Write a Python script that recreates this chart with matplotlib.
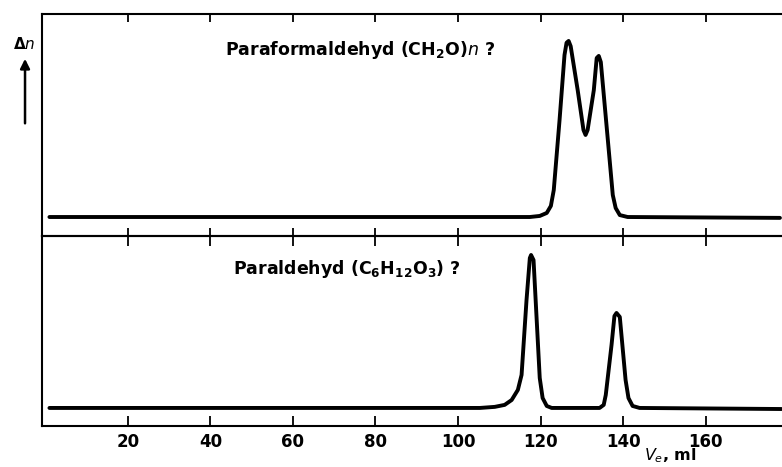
import matplotlib.pyplot as plt

plt.rcParams['mathtext.default'] = 'regular'

# elution volume (ml) and refractive index signal (relative units)
upper_ml = [1, 60, 117.4, 119.8, 121.5, 122.5, 123.2, 124.6, 125.8, 126.3, 126.8, 127.3, 129.0,
            130.4, 130.9, 131.4, 132.9, 133.6, 134.1, 134.6, 136.3, 137.5, 138.2, 139.2, 141.1, 178]
upper_dn = [0, 0, 0, 0.6, 2.3, 6.3, 15.3, 55, 92, 99, 100, 97, 72,
            49.4, 46.6, 49.4, 72, 90.3, 91.5, 88, 43.8, 12.5, 5.1, 1.1, 0, -0.5]

lower_ml = [1, 60, 105.3, 108.9, 111.3, 113.0, 114.5, 115.4, 116.6, 117.4, 117.7, 118.3, 119.8,
            120.5, 121.5, 122.7, 134.3, 135.3, 135.8, 137.2, 137.9, 138.4, 139.2, 140.6, 141.3,
            142.3, 144.0, 178.4]
lower_dn = [0, 0, 0, 0.7, 2.0, 5.2, 11.8, 21.6, 70.6, 98, 100, 96.7, 19.6,
            6.5, 1.3, 0, 0, 2, 8.5, 41.2, 60.1, 62.1, 59.5, 18.3, 6.5,
            1.3, 0, -0.7]

xticks = [20, 40, 60, 80, 100, 120, 140, 160]
upper_label = "Paraformaldehyd (CH$_2$O)$\\mathit{n}$ ?"
lower_label = "Paraldehyd (C$_6$H$_{12}$O$_3$) ?"

fig = plt.figure(figsize=(7.82, 4.67), dpi=100)
ax1 = fig.add_axes([0.0537, 0.4946, 0.9463, 0.4754])
ax2 = fig.add_axes([0.0537, 0.0878, 0.9463, 0.4068])
ax2.patch.set_visible(False)

for ax in (ax1, ax2):
    ax.set_xlim(-0.8, 178.5)
    ax.set_xticks(xticks)
    ax.set_yticks([])
    ax.spines['right'].set_visible(False)
    for s in ('left', 'top', 'bottom'):
        ax.spines[s].set_linewidth(1.5)

ax1.plot(upper_ml, upper_dn, color='black', lw=2.8, solid_capstyle='round', solid_joinstyle='round')
ax1.set_ylim(-10.8, 115.3)
ax1.tick_params(axis='x', which='both', direction='in', top=True, bottom=True,
                labelbottom=False, length=6, width=1.3)
ax1.text(0.247, 0.838, upper_label, transform=ax1.transAxes, ha='left', va='center',
         fontsize=12.5, fontweight='bold')

ax2.plot(lower_ml, lower_dn, color='black', lw=2.8, solid_capstyle='round', solid_joinstyle='round')
ax2.set_ylim(-11.8, 112.4)
ax2.tick_params(axis='x', direction='in', top=True, bottom=True, length=7, width=1.3,
                labelsize=12, pad=5)
for lab in ax2.get_xticklabels():
    lab.set_fontweight('bold')
ax2.text(0.258, 0.826, lower_label, transform=ax2.transAxes, ha='left', va='center',
         fontsize=12.5, fontweight='bold')

fig.text(0.031, 0.905, "$\\Delta$$\\mathit{n}$", ha='center', va='center', fontsize=11,
         fontweight='bold')
ax1.annotate("", xy=(0.032, 0.88), xytext=(0.032, 0.73), xycoords='figure fraction',
             textcoords='figure fraction',
             arrowprops=dict(arrowstyle='-|>', color='black', lw=1.8, mutation_scale=14))
fig.text(0.857, 0.024, "$\\mathit{V_e}$, ml", ha='center', va='center', fontsize=11.5,
         fontweight='bold')

fig.savefig("out.png", dpi=100)
